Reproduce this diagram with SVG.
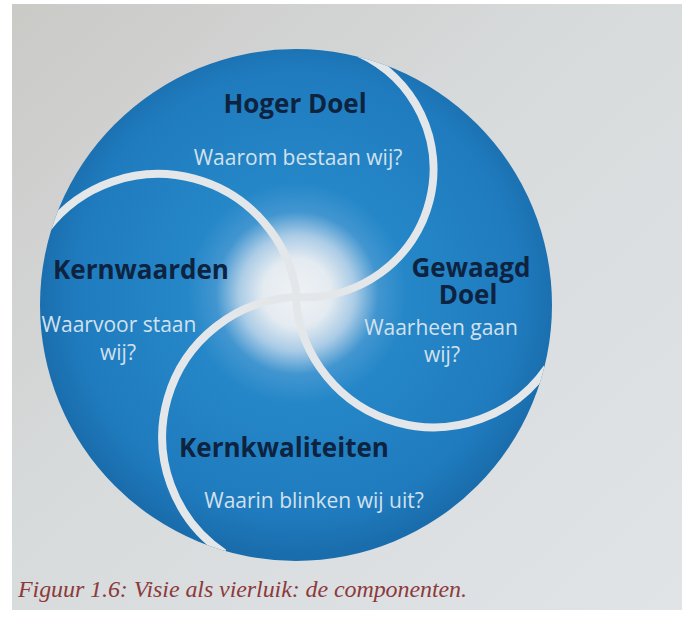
<svg xmlns="http://www.w3.org/2000/svg" width="682" height="621" viewBox="0 0 682 621">
<defs>
  <linearGradient id="page" x1="0" y1="0" x2="1" y2="1">
    <stop offset="0" stop-color="#cacac7"/>
    <stop offset="0.45" stop-color="#d8dbdc"/>
    <stop offset="1" stop-color="#e0e4e7"/>
  </linearGradient>
  <radialGradient id="blue" gradientUnits="userSpaceOnUse" cx="297" cy="293" r="262">
    <stop offset="0" stop-color="#eff2f4"/>
    <stop offset="0.13" stop-color="#e4ebf1"/>
    <stop offset="0.22" stop-color="#abcce6"/>
    <stop offset="0.31" stop-color="#4296d0"/>
    <stop offset="0.42" stop-color="#2587c8"/>
    <stop offset="0.85" stop-color="#1f7bbe"/>
    <stop offset="1" stop-color="#1a6dac"/>
  </radialGradient>
  <clipPath id="discClip"><circle cx="296" cy="305" r="256"/></clipPath>
  <style>
    .title{font-family:"Open Sans","Noto Sans",sans-serif;font-weight:700;font-size:26px;fill:#0e2340;text-anchor:middle}
    .q{font-family:"Open Sans","Noto Sans",sans-serif;font-weight:400;font-size:21px;fill:#d2e1ed;text-anchor:middle}
    .divider{fill:none;stroke:#e3e7ea;stroke-width:8}
    .caption{font-family:"Liberation Serif",serif;font-style:italic;font-size:24px;fill:#8c3a3c}
  </style>
</defs>
<rect width="682" height="621" fill="#ffffff"/>
<rect x="12" y="4" width="670" height="606" fill="url(#page)"/>
<g id="disc">
  <circle cx="296" cy="305" r="256" fill="url(#blue)"/>
</g>
<g id="connectors" clip-path="url(#discClip)">
  <path class="divider" d="M297,297 A128,128 0 0 0 359,53"/>
  <path class="divider" d="M296,299 A138,138 0 0 0 547,368"/>
  <path class="divider" d="M297,297 A140,140 0 0 0 224,553"/>
  <path class="divider" d="M297,297 A140,140 0 0 0 46,230"/>
</g>
<g id="hoger-doel">
  <text class="title" x="295" y="113">Hoger Doel</text>
  <text class="q" x="298" y="165">Waarom bestaan wij?</text>
</g>
<g id="gewaagd-doel">
  <text class="title"><tspan x="471" y="277">Gewaagd</tspan><tspan x="468" y="304">Doel</tspan></text>
  <text class="q"><tspan x="441" y="335">Waarheen gaan</tspan><tspan x="442" y="362">wij?</tspan></text>
</g>
<g id="kernkwaliteiten">
  <text class="title" x="284" y="457">Kernkwaliteiten</text>
  <text class="q" x="314" y="508">Waarin blinken wij uit?</text>
</g>
<g id="kernwaarden">
  <text class="title" x="141" y="279">Kernwaarden</text>
  <text class="q"><tspan x="119" y="332">Waarvoor staan</tspan><tspan x="118" y="360">wij?</tspan></text>
</g>
<text class="caption" x="18" y="597" textLength="449" lengthAdjust="spacing">Figuur 1.6: Visie als vierluik: de componenten.</text>
</svg>
